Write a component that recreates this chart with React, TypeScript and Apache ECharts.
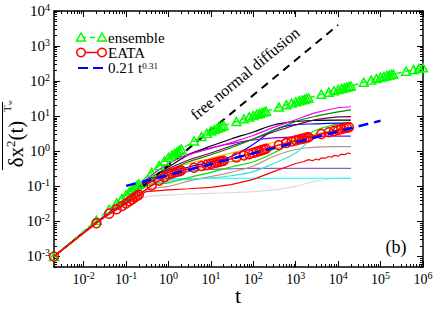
import React, { useEffect, useRef } from 'react';
import * as echarts from 'echarts';

const SERIF = '"Liberation Serif", "Times New Roman", serif';

// tick labels
const X_LABELS = [0.01, 0.1, 1, 10, 100, 1000, 10000, 100000, 1000000];
const Y_LABELS = [0.001, 0.01, 0.1, 1, 10, 100, 1000, 10000];

// ensemble (green triangles)
const ENS_T = [0.002,
  0.02, 0.04, 0.06, 0.08, 0.1, 0.12, 0.14, 0.16, 0.18,
  0.2, 0.4, 0.6, 0.8, 1, 1.2, 1.4, 1.6, 1.8,
  2, 4, 6, 8, 10, 12, 14, 16, 18,
  20, 40, 60, 80, 100, 120, 140, 160, 180,
  200, 400, 600, 800, 1000, 1200, 1400, 1600, 1800,
  2000, 4000, 6000, 8000, 10000, 12000, 14000, 16000, 18000,
  20000, 40000, 60000, 80000, 100000, 120000, 140000, 160000, 180000,
  200000, 400000, 600000, 800000, 1000000];
const ENS_V = [0.001,
  0.0107, 0.0221, 0.0337, 0.0455, 0.0575, 0.0695, 0.0815, 0.0935, 0.1054,
  0.1175, 0.252, 0.389, 0.528, 0.676, 0.778, 0.875, 0.969, 1.062,
  1.148, 1.954, 2.62, 3.24, 3.8, 4.17, 4.5, 4.81, 5.1,
  5.37, 7.08, 8.43, 9.53, 10.47, 11.27, 11.97, 12.64, 13.24,
  13.8, 18.2, 21.2, 23.6, 25.7, 27.4, 29.0, 30.4, 31.8,
  33.0, 42.2, 48.4, 53.3, 57.5, 61.2, 64.6, 67.5, 70.3,
  72.8, 92.7, 107, 119, 129, 136, 143, 148, 154,
  158, 192, 212, 228, 240];

// EATA (red circles)
const EATA_T = [0.002,
  0.02, 0.04, 0.06, 0.08, 0.1, 0.12, 0.14, 0.16, 0.18,
  0.2, 0.4, 0.6, 0.8, 1, 1.2, 1.4, 1.6, 1.8,
  2, 4, 6, 8, 10, 12, 14, 16, 18,
  20, 40, 60, 80, 100, 120, 140, 160, 180,
  200, 400, 600, 800, 1000, 1200, 1400, 1600, 1800,
  2000, 4000, 6000, 8000, 10000, 12000, 14000, 16000, 18000];
const EATA_V = [0.001,
  0.00891, 0.0166, 0.0223, 0.0275, 0.0324, 0.0377, 0.0428, 0.0479, 0.0527,
  0.0575, 0.105, 0.145, 0.183, 0.219, 0.234, 0.248, 0.26, 0.272,
  0.282, 0.339, 0.379, 0.41, 0.437, 0.461, 0.483, 0.502, 0.52,
  0.537, 0.661, 0.755, 0.828, 0.891, 0.959, 1.02, 1.076, 1.127,
  1.175, 1.514, 1.73, 1.897, 2.04, 2.16, 2.26, 2.35, 2.44,
  2.51, 3.09, 3.49, 3.8, 4.07, 4.3, 4.51, 4.69, 4.86];

// reference lines
const FREE_T = [0.25, 10000];
const FREE_V = [0.1, 4000];
const FIT_T = [0.1, 100000];
const FIT_V = [0.103, 7.45];

// individual trajectories
const TRAJ_T = [0.002, 0.02, 0.1, 0.3, 1, 3, 10, 30, 100, 300, 1000, 3000, 10000, 20000];
const TRAJ_MAGENTA = [0.001, 0.0095, 0.0447, 0.158, 0.447, 0.794, 1.2, 1.78, 2.82, 4.79, 7.94, 12.6, 17.4, 18.6];
const TRAJ_BLACK = [0.001, 0.0095, 0.0398, 0.141, 0.355, 0.794, 1.41, 2.24, 3.55, 5.62, 7.08, 7.59, 7.76, 7.76];
const TRAJ_GREEN4 = [0.001, 0.0095, 0.038, 0.126, 0.282, 0.501, 0.794, 1.26, 2.24, 3.98, 7.08, 10, 13.2, 15.1];
const TRAJ_VIOLET = [0.001, 0.0095, 0.0447, 0.158, 0.447, 0.832, 1.26, 1.66, 2.09, 2.4, 2.57, 2.69, 2.69, 2.69];
const TRAJ_BLUE = [0.001, 0.0095, 0.0355, 0.112, 0.251, 0.355, 0.501, 0.708, 1.58, 3.98, 5.75, 6.03, 6.31, 6.31];
const TRAJ_GREEN = [0.001, 0.0095, 0.0355, 0.1, 0.126, 0.178, 0.251, 0.355, 0.501, 0.891, 2.0, 3.98, 6.03, 6.61];
const TRAJ_BROWN = [0.001, 0.0095, 0.0355, 0.0794, 0.1, 0.141, 0.191, 0.251, 0.38, 0.708, 1.12, 1.32, 1.35, 1.35];
const TRAJ_CYAN = [0.001, 0.0095, 0.0355, 0.1, 0.158, 0.166, 0.17, 0.17, 0.17, 0.17, 0.17, 0.17, 0.17, 0.17];
const TRAJ_TURQUOISE = [0.001, 0.0095, 0.0355, 0.1, 0.141, 0.158, 0.174, 0.2, 0.263, 0.447, 0.891, 2.82, 4.17, 4.47];
const TRAJ_GREY = [0.001, 0.0095, 0.0316, 0.0501, 0.0562, 0.0603, 0.0631, 0.066, 0.0708, 0.0794, 0.1, 0.141, 0.17, 0.17];
const TRAJ_INDIGO = [0.001, 0.0095, 0.0355, 0.112, 0.2, 0.263, 0.302, 0.316, 0.324, 0.324, 0.324, 0.324, 0.324, 0.324];
const TRAJ_ORANGE = [0.001, 0.0095, 0.038, 0.126, 0.282, 0.447, 0.631, 0.891, 1.26, 1.78, 2.51, 3.16, 3.8, 4.17];
const TRAJ_YELLOW = [0.001, 0.0095, 0.0355, 0.1, 0.178, 0.282, 0.38, 0.501, 0.708, 1.12, 1.78, 2.82, 3.55, 3.8];
const TRAJ_MAROON = [0.001, 0.0095, 0.0398, 0.141, 0.316, 0.562, 0.891, 1.41, 2.24, 3.55, 5.62, 7.94, 9.55, 9.77];
const RED_T = [0.002, 0.02, 0.1, 0.3, 1, 3, 10, 30, 100, 300, 1000, 1500, 2000, 2500, 3000, 3500, 4000, 5000, 6000, 7000, 8000, 10000, 12000, 14000, 17000, 20000];
const RED_V = [0.001, 0.0095, 0.0316, 0.0708, 0.0794, 0.0851, 0.0933, 0.112, 0.158, 0.263, 0.447, 0.501, 0.575, 0.537, 0.603, 0.562, 0.646, 0.631, 0.708, 0.676, 0.759, 0.724, 0.832, 0.794, 0.891, 0.851];

const TRAJS: [number[], string][] = [
  [TRAJ_GREY, '#dcdcdc'],
  [TRAJ_CYAN, '#00ffff'],
  [TRAJ_INDIGO, '#8c5cc8'],
  [TRAJ_BROWN, '#bc8f8f'],
  [TRAJ_TURQUOISE, '#40e0d0'],
  [TRAJ_YELLOW, '#c8a000'],
  [TRAJ_ORANGE, '#ffa500'],
  [TRAJ_GREEN, '#00e000'],
  [TRAJ_BLUE, '#0000ff'],
  [TRAJ_VIOLET, '#9400d3'],
  [TRAJ_BLACK, '#000000'],
  [TRAJ_MAROON, '#670748'],
  [TRAJ_GREEN4, '#008b00'],
  [TRAJ_MAGENTA, '#ff00ff'],
];

const pairs = (t: number[], v: number[]) => t.map((x, i) => [x, v[i]]);

function minorTicks(lo: number, hi: number): number[] {
  const out: number[] = [];
  for (let e = -4; e <= 6; e++) {
    for (let k = 2; k <= 9; k++) {
      const v = parseFloat((k * Math.pow(10, e)).toPrecision(6));
      if (v >= lo && v <= hi) out.push(v);
    }
  }
  return out;
}

const fmtPow = (v: number) => `{b|10}{s|${Math.round(Math.log10(v))}}`;

export default function App() {
  const ref = useRef<HTMLDivElement>(null);
  useEffect(() => {
    if (!ref.current) return;
    const chart = echarts.init(ref.current, null, { renderer: 'svg' });
    const XMIN = 0.002, XMAX = 1000000, YMIN = 0.0005, YMAX = 10000;
    const axisLineStyle = { color: '#000', width: 1.5 };
    const richX = {
      b: { fontSize: 14, fontFamily: SERIF, color: '#000', lineHeight: 18 },
      s: { fontSize: 10, fontFamily: SERIF, color: '#000', verticalAlign: 'top', lineHeight: 12 },
    };
    const richY = {
      b: { fontSize: 15, fontFamily: SERIF, color: '#000', lineHeight: 18 },
      s: { fontSize: 10, fontFamily: SERIF, color: '#000', verticalAlign: 'top', lineHeight: 12 },
    };
    const xMinor = minorTicks(XMIN, XMAX);
    const yMinor = minorTicks(YMIN, YMAX);
    const mkX = (pos: string, major: boolean, labels: boolean, line: boolean) => ({
      type: 'log', min: XMIN, max: XMAX, position: pos,
      axisLine: { show: line, onZero: false, lineStyle: axisLineStyle },
      axisTick: { show: true, inside: true, length: major ? 6 : 3, customValues: major ? X_LABELS : xMinor, lineStyle: { color: '#000', width: 1 } },
      axisLabel: labels ? { show: true, customValues: X_LABELS, formatter: fmtPow, rich: richX, margin: 3 } : { show: false },
      splitLine: { show: false }, minorTick: { show: false }, minorSplitLine: { show: false },
    });
    const mkY = (pos: string, major: boolean, labels: boolean, line: boolean) => ({
      type: 'log', min: YMIN, max: YMAX, position: pos,
      axisLine: { show: line, onZero: false, lineStyle: axisLineStyle },
      axisTick: { show: true, inside: true, length: major ? 6 : 3, customValues: major ? Y_LABELS : yMinor, lineStyle: { color: '#000', width: 1 } },
      axisLabel: labels ? { show: true, customValues: Y_LABELS, formatter: fmtPow, rich: richY, margin: 4 } : { show: false },
      splitLine: { show: false }, minorTick: { show: false }, minorSplitLine: { show: false },
    });

    const series: any[] = [];
    TRAJS.forEach(([vals, color]) => {
      series.push({
        type: 'line', data: pairs(TRAJ_T, vals), symbol: 'none', smooth: 0.35,
        lineStyle: { color, width: 1.2 }, z: 2, silent: true,
      });
    });
    series.push({
      type: 'line', data: pairs(RED_T, RED_V), symbol: 'none', smooth: false,
      lineStyle: { color: '#ff0000', width: 1.2 }, z: 2, silent: true,
    });
    series.push({
      type: 'line', data: pairs(FREE_T, FREE_V), symbol: 'none',
      lineStyle: { color: '#000', width: 2, type: [8, 6] }, z: 3,
    });
    series.push({
      type: 'line', name: 'ensemble', data: pairs(ENS_T, ENS_V), symbol: 'triangle', symbolSize: [9, 8], showAllSymbol: true,
      itemStyle: { color: 'rgba(0,0,0,0)', borderColor: '#00ff00', borderWidth: 1.5 },
      lineStyle: { color: '#00ff00', width: 1.5, type: [5, 4] }, z: 4,
    });
    series.push({
      type: 'line', name: 'EATA', data: pairs(EATA_T, EATA_V), symbol: 'circle', symbolSize: 9, showAllSymbol: true,
      itemStyle: { color: 'rgba(0,0,0,0)', borderColor: '#ff0000', borderWidth: 1.5 },
      lineStyle: { color: '#ff0000', width: 1.5 }, z: 5,
    });
    series.push({
      type: 'line', name: 'fit', data: pairs(FIT_T, FIT_V), symbol: 'none',
      lineStyle: { color: '#0000ff', width: 2.5, type: [10, 6] }, z: 6,
    });

    const legendText = (text: string, y: number) => ({
      type: 'text', x: 108, y,
      style: { text, fontSize: 15, fontFamily: SERIF, lineHeight: 14, fill: '#000', verticalAlign: 'middle', align: 'left' },
    });
    const graphic: any[] = [
      // legend row 1: ensemble
      { type: 'line', shape: { x1: 81, y1: 37.5, x2: 102, y2: 37.5 }, style: { stroke: '#00ff00', lineWidth: 1.5, lineDash: [5, 4] } },
      { type: 'polygon', shape: { points: [[81, 33], [76.5, 41], [85.5, 41]] }, style: { fill: '#fff', stroke: '#00ff00', lineWidth: 1.5 } },
      { type: 'polygon', shape: { points: [[102, 33], [97.5, 41], [106.5, 41]] }, style: { fill: '#fff', stroke: '#00ff00', lineWidth: 1.5 } },
      legendText('ensemble', 37.5),
      // legend row 2: EATA
      { type: 'line', shape: { x1: 81, y1: 52.5, x2: 102, y2: 52.5 }, style: { stroke: '#ff0000', lineWidth: 1.5 } },
      { type: 'circle', shape: { cx: 81, cy: 52.5, r: 4.3 }, style: { fill: '#fff', stroke: '#ff0000', lineWidth: 1.5 } },
      { type: 'circle', shape: { cx: 102, cy: 52.5, r: 4.3 }, style: { fill: '#fff', stroke: '#ff0000', lineWidth: 1.5 } },
      legendText('EATA', 52.5),
      // legend row 3: fit
      { type: 'line', shape: { x1: 78, y1: 68, x2: 88, y2: 68 }, style: { stroke: '#0000ff', lineWidth: 2 } },
      { type: 'line', shape: { x1: 93, y1: 68, x2: 103, y2: 68 }, style: { stroke: '#0000ff', lineWidth: 2 } },
      { type: 'text', x: 108, y: 68, style: {
        text: '{a|0.21 t}{s|0.31}', verticalAlign: 'middle', align: 'left',
        rich: {
          a: { fontSize: 15, fontFamily: SERIF, fill: '#000', lineHeight: 14 },
          s: { fontSize: 9, fontFamily: SERIF, fill: '#000', verticalAlign: 'top', lineHeight: 10 },
        },
      } },
      // annotation
      { type: 'text', x: 245, y: 73.5, rotation: 0.688, style: { text: 'free normal diffusion', fontSize: 16, fontFamily: SERIF, fill: '#000', align: 'center', verticalAlign: 'middle' } },
      { type: 'text', x: 396, y: 247, style: { text: '(b)', fontSize: 18, fontFamily: SERIF, fill: '#000', align: 'center', verticalAlign: 'middle' } },
      // x-axis title
      { type: 'text', x: 238, y: 295, style: { text: 't', fontSize: 22, fontFamily: SERIF, lineHeight: 20, fill: '#000', align: 'center', verticalAlign: 'middle' } },
      // y-axis title
      { type: 'line', shape: { x1: 2.5, y1: 102, x2: 2.5, y2: 170 }, style: { stroke: '#000', lineWidth: 1 } },
      { type: 'text', x: 16, y: 144, rotation: Math.PI / 2, style: {
        text: '{a|δx}{s|2}{a|(t)}', align: 'center', verticalAlign: 'middle',
        rich: {
          a: { fontSize: 21, fontFamily: SERIF, fill: '#000', lineHeight: 24 },
          s: { fontSize: 13, fontFamily: SERIF, fill: '#000', verticalAlign: 'top', lineHeight: 14 },
        },
      } },
      { type: 'text', x: 7, y: 106, rotation: Math.PI / 2, style: {
        text: '{t|T}{w|w}', align: 'center', verticalAlign: 'middle',
        rich: {
          t: { fontSize: 11, fontFamily: SERIF, fill: '#000', lineHeight: 12 },
          w: { fontSize: 7, fontFamily: SERIF, fill: '#000', verticalAlign: 'bottom', lineHeight: 12 },
        },
      } },
    ];

    chart.setOption({
      animation: false,
      backgroundColor: '#fff',
      grid: { left: 54, right: 13, top: 11, bottom: 43, containLabel: false, outerBoundsMode: 'none' },
      xAxis: [
        mkX('bottom', true, true, true),
        mkX('bottom', false, false, false),
        mkX('top', true, false, true),
        mkX('top', false, false, false),
      ],
      yAxis: [
        mkY('left', true, true, true),
        mkY('left', false, false, false),
        mkY('right', true, false, true),
        mkY('right', false, false, false),
      ],
      series,
      graphic,
    });
    return () => chart.dispose();
  }, []);
  return <div ref={ref} style={{ position: 'fixed', left: 0, top: 0, width: 436, height: 310 }} />;
}
